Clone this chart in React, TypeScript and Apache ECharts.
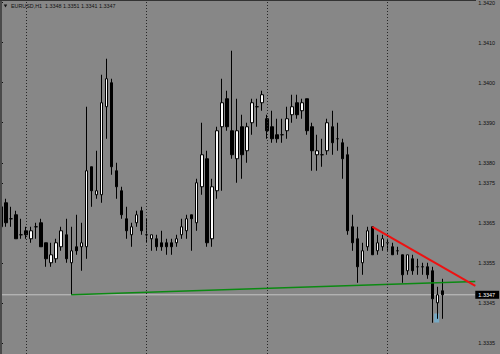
import React, { useEffect, useRef } from "react";
import * as echarts from "echarts";

const symbolName = "EURUSD,H1";
const headerQuote = ["1.3348", "1.3351", "1.3341", "1.3347"];

const opens = [
  1.3364, 1.337, 1.3366, 1.3367, 1.3362, 1.3363, 1.3361, 1.3364, 1.3365, 1.336,
  1.3355, 1.3356, 1.3359, 1.3362, 1.3355, 1.3359, 1.3359, 1.3359, 1.3379, 1.3372,
  1.3372, 1.3394, 1.34, 1.3378, 1.3373, 1.3366, 1.3362, 1.3365, 1.3368, 1.3362,
  1.3361, 1.3361, 1.336, 1.336, 1.336, 1.336, 1.3362, 1.3363, 1.3367, 1.3365,
  1.3374, 1.3381, 1.3361, 1.3373, 1.3389, 1.3396, 1.3388, 1.3381, 1.3389, 1.3383,
  1.339, 1.3394, 1.3395, 1.3391, 1.3389, 1.3387, 1.3387, 1.3388, 1.3392, 1.3395,
  1.3393, 1.3396, 1.3389, 1.3382, 1.3382, 1.3383, 1.3389, 1.3386, 1.3385, 1.3382,
  1.3364, 1.3361, 1.3355, 1.3359, 1.3364, 1.3358, 1.3359, 1.336, 1.3359, 1.3358,
  1.3357, 1.3353, 1.3356, 1.3354, 1.3354, 1.3354, 1.3353, 1.3345, 1.3348,
];
const closes = [
  1.3369, 1.3365, 1.3366, 1.3361, 1.3362, 1.3362, 1.3363, 1.3364, 1.3359, 1.3356,
  1.3357, 1.336, 1.3363, 1.3356, 1.3358, 1.3358, 1.336, 1.3378, 1.3373, 1.3373,
  1.3395, 1.3401, 1.3379, 1.3374, 1.3367, 1.3363, 1.3364, 1.3367, 1.3363, 1.3362,
  1.3362, 1.3359, 1.3359, 1.3359, 1.3359, 1.3361, 1.3364, 1.3366, 1.3366, 1.3375,
  1.3382, 1.336, 1.3374, 1.3388, 1.3395, 1.3389, 1.3382, 1.3388, 1.3382, 1.3389,
  1.3395, 1.3394, 1.3397, 1.3388, 1.3386, 1.3386, 1.3387, 1.3391, 1.3394, 1.3392,
  1.3395, 1.3388, 1.3383, 1.3383, 1.3382, 1.339, 1.3385, 1.3386, 1.3381, 1.3363,
  1.336, 1.3354, 1.3358, 1.3363, 1.3357, 1.336, 1.3361, 1.336, 1.3357, 1.3358,
  1.3352, 1.3357, 1.3353, 1.3354, 1.3354, 1.3352, 1.3346, 1.3347, 1.3347,
];
const lows = [
  1.336, 1.3364, 1.3364, 1.3361, 1.3361, 1.3361, 1.336, 1.3361, 1.3359, 1.3354,
  1.3354, 1.3355, 1.3358, 1.3355, 1.3347, 1.3357, 1.3353, 1.3356, 1.3369, 1.3371,
  1.337, 1.3386, 1.3377, 1.3371, 1.3366, 1.3361, 1.3359, 1.3364, 1.3362, 1.336,
  1.3358, 1.3358, 1.3358, 1.3357, 1.3357, 1.3359, 1.3361, 1.3361, 1.3358, 1.3363,
  1.3372, 1.3359, 1.3359, 1.3371, 1.3373, 1.3388, 1.3381, 1.3375, 1.3376, 1.338,
  1.3387, 1.3389, 1.3393, 1.3386, 1.3385, 1.3385, 1.3385, 1.3386, 1.339, 1.3391,
  1.3391, 1.3387, 1.3378, 1.3378, 1.3379, 1.3382, 1.3382, 1.3383, 1.3376, 1.3362,
  1.3358, 1.335, 1.3352, 1.3358, 1.3357, 1.3357, 1.3358, 1.3358, 1.3357, 1.3357,
  1.335, 1.3352, 1.3352, 1.3352, 1.3352, 1.3351, 1.334, 1.3341, 1.3341,
];
const highs = [
  1.3371, 1.3371, 1.3369, 1.3368, 1.3366, 1.3364, 1.3364, 1.3365, 1.3366, 1.336,
  1.336, 1.3361, 1.3364, 1.3366, 1.3364, 1.3367, 1.3365, 1.3394, 1.3379, 1.3383,
  1.3402, 1.3406, 1.3401, 1.338, 1.3374, 1.3369, 1.3365, 1.3368, 1.3369, 1.3366,
  1.3362, 1.3362, 1.3363, 1.3361, 1.3361, 1.3362, 1.3366, 1.3367, 1.3367, 1.3376,
  1.339, 1.3383, 1.3376, 1.3389, 1.3401, 1.3398, 1.3408, 1.3396, 1.3392, 1.339,
  1.3396, 1.3396, 1.3398, 1.3392, 1.3393, 1.3391, 1.3391, 1.3394, 1.3397, 1.3397,
  1.3396, 1.3396, 1.339, 1.3387, 1.3386, 1.3391, 1.3393, 1.339, 1.3386, 1.3384,
  1.3367, 1.3364, 1.336, 1.3364, 1.3364, 1.3362, 1.3362, 1.3361, 1.336, 1.3359,
  1.3357, 1.3357, 1.3357, 1.3356, 1.3355, 1.3355, 1.3354, 1.3349, 1.3351,
];

const barSlots = 95;
const daySeparators = [5, 29, 53, 77];
const bidPrice = 1.3347;
const priceTicks = [1.342, 1.341, 1.34, 1.339, 1.338, 1.3375, 1.3365, 1.3355, 1.3345, 1.3335];
const priceMin = 1.33322;
const priceMax = 1.342043;
const supportLine = [
  [14, 1.3347],
  [94.5, 1.33503],
];
const resistanceLine = [
  [74, 1.3364],
  [94.5, 1.33492],
];
const bidLine = [
  [-0.5, bidPrice],
  [barSlots - 0.5, bidPrice],
];
const arrowMark = [[86.8, 1.33412]];

const categories = Array.from({ length: barSlots }, (_, i) => String(i));

export default function App() {
  const ref = useRef<HTMLDivElement>(null);
  useEffect(() => {
    if (!ref.current) return;
    const chart = echarts.init(ref.current, undefined, { renderer: "svg" });
    const candles = opens.map((o, i) => [o, closes[i], lows[i], highs[i]]);
    const font = "'Liberation Sans', Arial, sans-serif";
    chart.setOption({
      animation: false,
      backgroundColor: "#878787",
      grid: {
        left: -1.5,
        right: 24.7,
        top: 1,
        bottom: 0,
        containLabel: false,
        outerBoundsMode: "none",
      },
      xAxis: [
        {
          type: "category",
          data: categories,
          boundaryGap: true,
          show: false,
        },
        {
          type: "value",
          min: -0.5,
          max: barSlots - 0.5,
          show: false,
        },
      ],
      yAxis: [
        {
          type: "value",
          position: "right",
          min: priceMin,
          max: priceMax,
          splitLine: { show: false },
          axisLine: { show: true, lineStyle: { color: "#111", width: 1 } },
          axisTick: {
            show: true,
            length: 2,
            customValues: priceTicks,
            lineStyle: { color: "#111" },
          },
          axisLabel: {
            customValues: priceTicks,
            margin: 3,
            color: "#111",
            fontSize: 5.5,
            fontFamily: font,
            formatter: (v: number) => v.toFixed(4),
          },
        },
        {
          type: "value",
          position: "right",
          min: priceMin,
          max: priceMax,
          z: 5,
          splitLine: { show: false },
          axisLine: { show: false },
          axisTick: { show: false },
          axisLabel: {
            customValues: [bidPrice],
            margin: 0,
            color: "#fff",
            backgroundColor: "#000",
            padding: [1, 4, 1, 3],
            fontSize: 5.5,
            fontFamily: font,
            formatter: (v: number) => v.toFixed(4),
          },
        },
      ],
      series: [
        {
          type: "line",
          xAxisIndex: 1,
          yAxisIndex: 0,
          data: bidLine,
          symbol: "none",
          silent: true,
          lineStyle: { color: "#c4c4c4", width: 1 },
          z: 1,
          markLine: {
            silent: true,
            symbol: ["none", "none"],
            label: { show: false },
            lineStyle: { color: "#262626", type: [1, 2], width: 1 },
            data: daySeparators.map((d) => ({ xAxis: d })),
          },
        },
        {
          type: "candlestick",
          xAxisIndex: 0,
          yAxisIndex: 0,
          data: candles,
          barWidth: 3,
          itemStyle: {
            color: "#ffffff",
            color0: "#000000",
            borderColor: "#000000",
            borderColor0: "#000000",
            borderColorDoji: "#000000",
            borderWidth: 1,
          },
          z: 3,
        },
        {
          type: "line",
          xAxisIndex: 1,
          yAxisIndex: 0,
          data: supportLine,
          symbol: "none",
          clip: true,
          lineStyle: { color: "#0b8a12", width: 1.5 },
          z: 4,
        },
        {
          type: "line",
          xAxisIndex: 1,
          yAxisIndex: 0,
          data: resistanceLine,
          symbol: "none",
          clip: true,
          lineStyle: { color: "#ee1111", width: 2 },
          z: 4,
        },
        {
          type: "scatter",
          xAxisIndex: 1,
          yAxisIndex: 0,
          data: arrowMark,
          symbol: "rect",
          symbolSize: [5, 9],
          itemStyle: { color: "rgba(110,185,225,0.85)" },
          z: 2,
        },
      ],
      graphic: [
        {
          type: "rect",
          shape: { x: 0, y: 0, width: 2, height: 354 },
          style: { fill: "#4a4a4a" },
          z: 10,
        },
        {
          type: "line",
          shape: { x1: 0, y1: 0.5, x2: 476, y2: 0.5 },
          style: { stroke: "#333", lineWidth: 1 },
          z: 10,
        },
        {
          type: "polygon",
          shape: { points: [[3.8, 4.6], [7.2, 4.6], [5.5, 7.4]] },
          style: { fill: "#111" },
          z: 10,
        },
        {
          type: "text",
          x: 11,
          y: 6,
          style: {
            text: symbolName + "  " + headerQuote.join(" "),
            fill: "#111",
            fontSize: 6,
            fontFamily: font,
            verticalAlign: "middle",
            align: "left",
          },
          scaleX: 0.9,
          z: 10,
        },
      ],
    });
    return () => chart.dispose();
  }, []);
  return (
    <div
      ref={ref}
      style={{ position: "fixed", left: 0, top: 0, width: 500, height: 354 }}
    />
  );
}
